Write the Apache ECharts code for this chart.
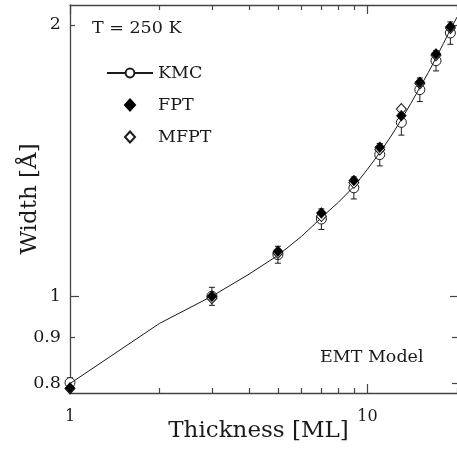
<!DOCTYPE html>
<html>
<head>
<meta charset="utf-8">
<script src="https://cdn.jsdelivr.net/npm/echarts@6/dist/echarts.min.js"></script>
<style>
  html, body { margin: 0; padding: 0; background: #fff; }
  #chart { width: 457px; height: 449px; }
</style>
</head>
<body>
<div id="chart"></div>
<script>
// Film thickness (ML) of the simulated points
const thickness = [1, 3, 5, 7, 9, 11, 13, 15, 17, 19];
// Kinetic Monte Carlo interface width (Å) and its error
const kmcWidth = [0.802, 1.000, 1.112, 1.218, 1.319, 1.436, 1.559, 1.695, 1.825, 1.959];
const kmcError = [0.010, 0.023, 0.024, 0.032, 0.037, 0.041, 0.050, 0.051, 0.047, 0.056];
// First-passage-time and mean-first-passage-time widths (Å)
const fptWidth = [0.791, 1.000, 1.122, 1.237, 1.344, 1.463, 1.586, 1.727, 1.857, 1.990];
const mfptWidth = [0.790, 0.995, 1.117, 1.227, 1.336, 1.455, 1.613, 1.722, 1.851, 1.984];
// KMC curve at every thickness
const curveThickness = [1, 2, 3, 4, 5, 6, 7, 8, 9, 10, 11, 12, 13, 14, 15, 16, 17, 18, 19, 20];
const curveWidth = [0.800, 0.933, 1.000, 1.058, 1.110, 1.165, 1.222, 1.272, 1.323, 1.383,
                    1.443, 1.505, 1.570, 1.637, 1.704, 1.770, 1.838, 1.907, 1.976, 2.040];
// Axis ticks and labels
const xMajorTicks = [1, 10];
const xMinorTicks = [2, 3, 4, 5, 6, 7, 8, 9, 20];
const yMajorTicks = [1];
const yMinorTicks = [0.8, 0.9, 2];
const yLabels = [0.8, 0.9, 1, 2];

const FONT = 'DejaVu Serif';
const AXIS = '#444';
const INK = '#1a1a1a';

const X_MIN = 1, X_MAX = 20, Y_MIN = 0.781, Y_MAX = 2.104;

function xAxisDef(position, ticks, len, showLine, showLabel) {
  return {
    type: 'log', logBase: 10, position: position, min: X_MIN, max: X_MAX,
    nameMoveOverlap: false,
    axisLine: { show: showLine, lineStyle: { color: AXIS, width: 1.3 } },
    axisTick: { show: true, inside: true, length: len, customValues: ticks,
                lineStyle: { color: AXIS, width: 1.2 } },
    axisLabel: { show: showLabel, customValues: xMajorTicks, margin: 16,
                 fontFamily: FONT, fontSize: 16, color: INK,
                 formatter: v => String(Math.round(v)) },
    splitLine: { show: false }, minorTick: { show: false }
  };
}
function yAxisDef(position, ticks, len, showLine, showLabel) {
  return {
    type: 'log', logBase: 10, position: position, min: Y_MIN, max: Y_MAX,
    nameMoveOverlap: false,
    axisLine: { show: showLine, lineStyle: { color: AXIS, width: 1.3 } },
    axisTick: { show: true, inside: true, length: len, customValues: ticks,
                lineStyle: { color: AXIS, width: 1.2 } },
    axisLabel: { show: showLabel, customValues: yLabels, margin: 9,
                 fontFamily: FONT, fontSize: 17.5, color: INK,
                 formatter: v => String(Math.round(v * 10) / 10) },
    splitLine: { show: false }, minorTick: { show: false }
  };
}

const xAxes = [
  xAxisDef('bottom', xMajorTicks, 9, true, true),
  xAxisDef('bottom', xMinorTicks, 5, false, false),
  xAxisDef('top', xMajorTicks, 9, true, false),
  xAxisDef('top', xMinorTicks, 5, false, false)
];
xAxes[0].name = 'Thickness [ML]';
xAxes[0].nameLocation = 'middle';
xAxes[0].nameGap = 27;
xAxes[0].nameTextStyle = { fontFamily: FONT, fontSize: 23, color: INK, padding: [0, 10, 0, 0] };

const yAxes = [
  yAxisDef('left', yMajorTicks, 9, true, true),
  yAxisDef('left', yMinorTicks, 5, false, false),
  yAxisDef('right', yMajorTicks, 7, false, false),
  yAxisDef('right', yMinorTicks, 5, false, false)
];
yAxes[0].name = 'Width [Å]';
yAxes[0].nameLocation = 'middle';
yAxes[0].nameGap = 28;
yAxes[0].nameTextStyle = { fontFamily: FONT, fontSize: 23, color: INK };

const legendText = { fontFamily: FONT, fontSize: 17.5, color: INK };

const chart = echarts.init(document.getElementById('chart'), null, { renderer: 'canvas' });

chart.setOption({
  animation: false,
  backgroundColor: '#fff',
  grid: { left: 70, top: 5, width: 387, height: 388, containLabel: false, outerBoundsMode: 'none' },
  xAxis: xAxes,
  yAxis: yAxes,
  legend: [
    {
      orient: 'vertical', left: 106, top: 64, padding: 0,
      itemWidth: 46, itemHeight: 11,
      selectedMode: false,
      data: ['KMC'],
      textStyle: legendText
    },
    {
      orient: 'vertical', left: 124, top: 96, padding: 0,
      itemWidth: 10, itemHeight: 11, itemGap: 14,
      selectedMode: false,
      data: ['FPT', 'MFPT'],
      textStyle: Object.assign({ padding: [0, 0, 0, 18] }, legendText)
    }
  ],
  graphic: [
    { type: 'text', left: 92, top: 19,
      style: { text: 'T = 250 K', font: '17.5px "DejaVu Serif"', fill: INK } },
    { type: 'text', left: 320, top: 348,
      style: { text: 'EMT Model', font: '17.5px "DejaVu Serif"', fill: INK } }
  ],
  series: [
    {
      name: 'KMC', type: 'line', z: 3,
      symbol: 'emptyCircle', showSymbol: false,
      lineStyle: { color: INK, width: 1 },
      itemStyle: { color: INK },
      data: curveThickness.map((t, i) => [t, curveWidth[i]])
    },
    {
      name: 'KMC error', type: 'custom', z: 1,
      data: thickness.map((t, i) => [t, kmcWidth[i], kmcError[i]]),
      encode: { x: 0, y: 1 },
      renderItem: function (params, api) {
        const t = api.value(0), w = api.value(1), e = api.value(2);
        const hi = api.coord([t, w + e]);
        const lo = api.coord([t, w - e]);
        const cap = 3;
        const st = { stroke: INK, lineWidth: 1 };
        return {
          type: 'group',
          children: [
            { type: 'line', shape: { x1: hi[0], y1: hi[1], x2: lo[0], y2: lo[1] }, style: st },
            { type: 'line', shape: { x1: hi[0] - cap, y1: hi[1], x2: hi[0] + cap, y2: hi[1] }, style: st },
            { type: 'line', shape: { x1: lo[0] - cap, y1: lo[1], x2: lo[0] + cap, y2: lo[1] }, style: st }
          ]
        };
      }
    },
    {
      name: 'KMC', type: 'scatter', z: 2,
      symbol: 'circle', symbolSize: 10,
      itemStyle: { color: '#fff', borderColor: INK, borderWidth: 1, opacity: 1 },
      data: thickness.map((t, i) => [t, kmcWidth[i]])
    },
    {
      name: 'MFPT', type: 'scatter', z: 4,
      symbol: 'diamond', symbolSize: [10, 11],
      itemStyle: { color: '#fff', borderColor: INK, borderWidth: 1, opacity: 1 },
      data: thickness.map((t, i) => [t, mfptWidth[i]])
    },
    {
      name: 'FPT', type: 'scatter', z: 5,
      symbol: 'diamond', symbolSize: [10, 11],
      itemStyle: { color: '#000', borderColor: '#000', borderWidth: 0.5, opacity: 1 },
      data: thickness.map((t, i) => [t, fptWidth[i]])
    }
  ]
});
</script>
</body>
</html>
